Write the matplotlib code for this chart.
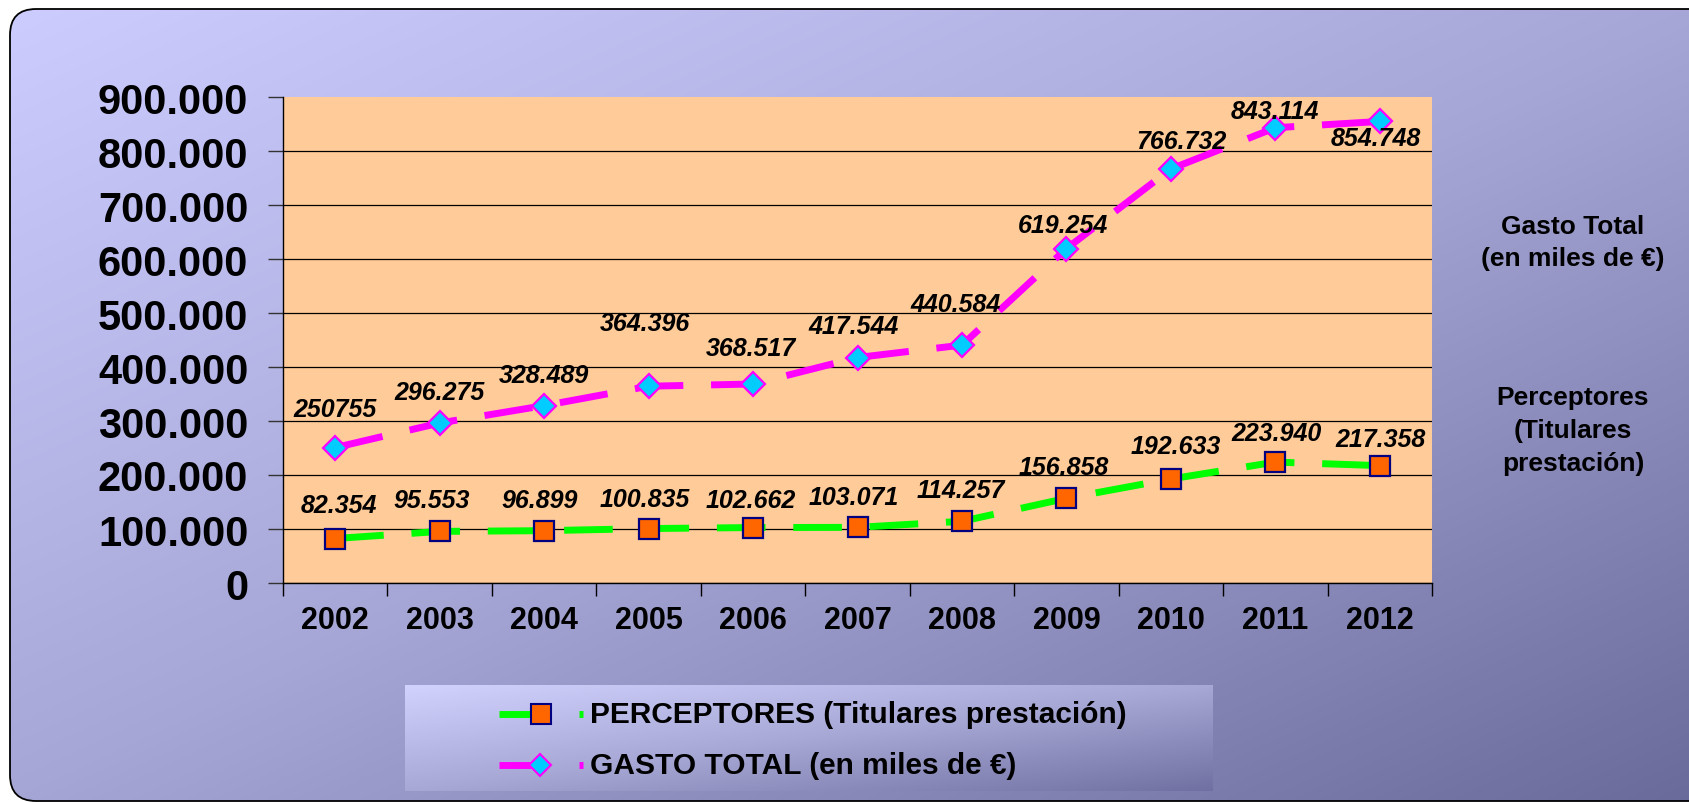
import numpy as np
import matplotlib
matplotlib.use('Agg')
import matplotlib.pyplot as plt
from matplotlib.patches import FancyBboxPatch, Rectangle
from matplotlib.colors import LinearSegmentedColormap
from matplotlib.lines import Line2D
from matplotlib.ticker import FuncFormatter

plt.rcParams['font.family'] = ['Liberation Sans', 'DejaVu Sans']

years = ['2002', '2003', '2004', '2005', '2006', '2007', '2008', '2009', '2010', '2011', '2012']
perceptores = [82354, 95553, 96899, 100835, 102662, 103071, 114257, 156858, 192633, 223940, 217358]
gasto = [250755, 296275, 328489, 364396, 368517, 417544, 440584, 619254, 766732, 843114, 854748]
perceptores_labels = ['82.354', '95.553', '96.899', '100.835', '102.662', '103.071',
                      '114.257', '156.858', '192.633', '223.940', '217.358']
gasto_labels = ['250755', '296.275', '328.489', '364.396', '368.517', '417.544',
                '440.584', '619.254', '766.732', '843.114', '854.748']
y_ticks = [0, 100000, 200000, 300000, 400000, 500000, 600000, 700000, 800000, 900000]

legend_names = ['PERCEPTORES (Titulares prestación)', 'GASTO TOTAL (en miles de €)']

# label offsets from the marker, in pixels (dx, dy up)
gasto_off = [(0, 39), (0, 31), (0, 31), (-4, 63), (-2, 36), (-4, 32),
             (-6, 41), (-3, 24), (11, 28), (0, 17), (-4, -17)]
perc_off = [(4, 34), (-8, 31), (-5, 31), (-4, 30), (-2, 28), (-4, 30),
            (-1, 31), (-3, 31), (5, 33), (1, 29), (1, 27)]

W, H = 1690, 803
fig = plt.figure(figsize=(W / 100, H / 100), dpi=100)

# background panel with diagonal gradient
bg = fig.add_axes([0, 0, 1, 1])
bg.set_zorder(0)
cmap_bg = LinearSegmentedColormap.from_list('bg', ['#CCCCFF', '#A6A6D6', '#69699A'])
xx, yy = np.meshgrid(np.linspace(0, 1, 400), np.linspace(0, 1, 200))
frame = FancyBboxPatch((10, 10), 1712, 792, boxstyle='round,pad=0,rounding_size=26',
                       facecolor='none', edgecolor='black', lw=1.3, zorder=2)
bg.add_patch(frame)
im = bg.imshow((xx + yy) / 2, cmap=cmap_bg, extent=(10, 1722, 802, 10),
               aspect='auto', interpolation='bilinear', zorder=1)
im.set_clip_path(frame)

# legend box
cmap_lg = LinearSegmentedColormap.from_list('lg', ['#D2D2FF', '#A8A8D6', '#7070A2'])
lbox = Rectangle((405, 686), 808, 106, facecolor='none', edgecolor='none')
bg.add_patch(lbox)
im2 = bg.imshow((xx + yy) / 2, cmap=cmap_lg, extent=(405, 1213, 792, 686),
                aspect='auto', interpolation='bilinear', zorder=3)
im2.set_clip_path(lbox)

bg.set_xlim(0, W)
bg.set_ylim(H, 0)
bg.axis('off')

# legend entries
rows = [715, 766]
bg.add_line(Line2D([499, 533], [rows[0]] * 2, color='#00FF00', lw=5, solid_capstyle='butt', zorder=4))
bg.add_line(Line2D([541], [rows[0]], marker='s', ms=14, mfc='#FF6600', mec='#000080', mew=1.5, zorder=5))
bg.add_line(Line2D([579, 583], [rows[0]] * 2, color='#00FF00', lw=5, solid_capstyle='butt', zorder=4))
bg.add_line(Line2D([499, 533], [rows[1]] * 2, color='#FF00FF', lw=5, solid_capstyle='butt', zorder=4))
bg.add_line(Line2D([540], [rows[1]], marker='D', ms=11, mfc='#00CCFF', mec='#FF00FF', mew=1.5, zorder=5))
bg.add_line(Line2D([579, 583], [rows[1]] * 2, color='#FF00FF', lw=5, solid_capstyle='butt', zorder=4))
for r, name in zip(rows, legend_names):
    bg.text(590, r, name, ha='left', va='center', fontsize=21.5, fontweight='bold', zorder=5)

# side notes
bg.text(1573, 243, 'Gasto Total\n(en miles de €)', ha='center', va='center',
        fontsize=19, fontweight='bold', linespacing=1.45, zorder=5)
bg.text(1573, 431, 'Perceptores\n(Titulares\nprestación)', ha='center', va='center',
        fontsize=19, fontweight='bold', linespacing=1.45, zorder=5)

# main plot
ax = fig.add_axes([283 / W, (H - 584) / H, 1149 / W, 486 / H])
ax.set_zorder(1)
ax.set_facecolor('#FFCC99')
x = np.arange(len(years))

ax.plot(x, perceptores, color='#00FF00', lw=5, dashes=(7, 4), marker='s', ms=15,
        mfc='#FF6600', mec='#000080', mew=1.6, zorder=3)
ax.plot(x, gasto, color='#FF00FF', lw=5, dashes=(7, 4), marker='D', ms=12,
        mfc='#00CCFF', mec='#FF00FF', mew=1.6, zorder=3)

for xi, v, lab, (dx, dy) in zip(x, gasto, gasto_labels, gasto_off):
    ax.annotate(lab, (xi, v), xytext=(dx, dy), textcoords='offset pixels',
                ha='center', va='center', fontsize=18, fontweight='bold',
                fontstyle='italic', annotation_clip=False, zorder=4)
for xi, v, lab, (dx, dy) in zip(x, perceptores, perceptores_labels, perc_off):
    ax.annotate(lab, (xi, v), xytext=(dx, dy), textcoords='offset pixels',
                ha='center', va='center', fontsize=18, fontweight='bold',
                fontstyle='italic', annotation_clip=False, zorder=4)

ax.set_xlim(-0.5, len(years) - 0.5)
ax.set_ylim(0, 900000)
ax.set_yticks(y_ticks)
ax.yaxis.set_major_formatter(FuncFormatter(lambda v, p: f'{int(v):,}'.replace(',', '.')))
ax.set_xticks(x)
ax.set_xticklabels(years)
ax.set_xticks(np.arange(-0.5, len(years), 1), minor=True)
ax.tick_params(axis='x', which='major', length=0, pad=16, labelsize=22)
ax.tick_params(axis='x', which='minor', length=9, width=1, direction='out')
ax.tick_params(axis='y', length=11, width=1, pad=14, labelsize=30, color='#333333')
for lab in ax.get_xticklabels() + ax.get_yticklabels():
    lab.set_fontweight('bold')

ax.yaxis.grid(True, color='black', lw=0.9)
ax.set_axisbelow(True)
ax.get_ygridlines()[-1].set_visible(False)
for s in ['top', 'right']:
    ax.spines[s].set_visible(False)
for s in ['left', 'bottom']:
    ax.spines[s].set_color('black')
    ax.spines[s].set_linewidth(1)

fig.savefig('out.png', dpi=100)
